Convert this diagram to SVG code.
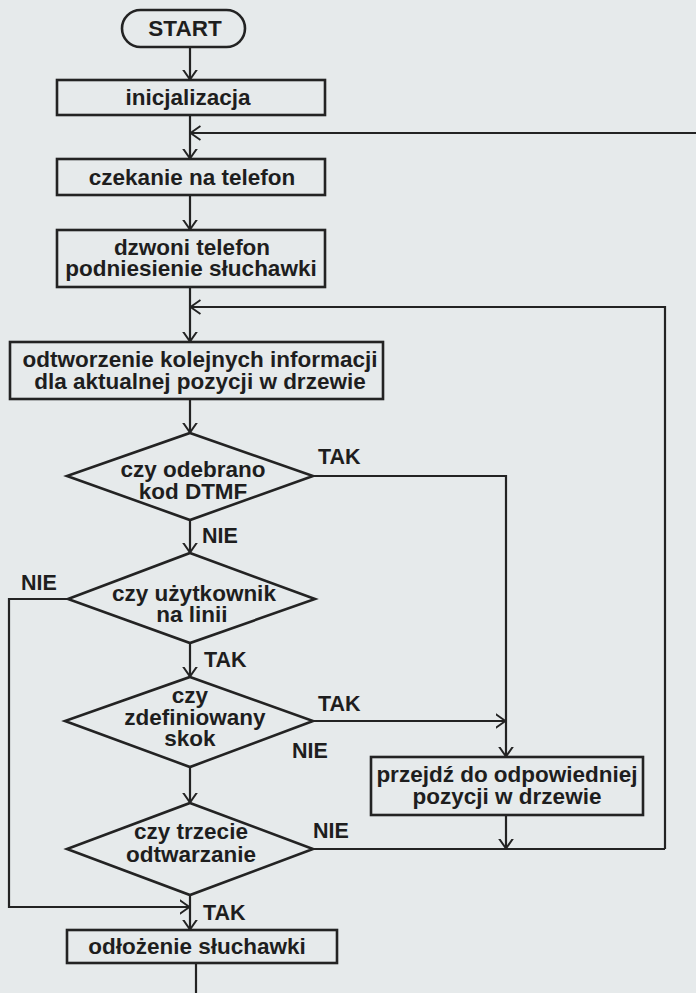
<svg xmlns="http://www.w3.org/2000/svg" width="696" height="993" viewBox="0 0 696 993">
<style>
.shape{fill:none;stroke:#232323;stroke-width:2.6}
.conn{fill:none;stroke:#232323;stroke-width:2.2}
text{font-family:"Liberation Sans",Arial,sans-serif;font-weight:bold;font-size:22.5px;fill:#1e1e1e;text-anchor:middle}
.lbl{text-anchor:start;font-size:21.5px}
</style>
<defs>
<marker id="ah" viewBox="0 0 10 16" markerWidth="10" markerHeight="16" refX="9.5" refY="8" orient="auto" markerUnits="userSpaceOnUse">
<path d="M0,1 L10,8 L0,15" fill="none" stroke="#232323" stroke-width="2"/>
</marker>
</defs>
<rect x="0" y="0" width="696" height="993" fill="#e6eaeb"/>
<g id="connectors">
<path class="conn" d="M190,47 V79" marker-end="url(#ah)"/>
<path class="conn" d="M190,115 V158" marker-end="url(#ah)"/>
<path class="conn" d="M696,133 H191" marker-end="url(#ah)"/>
<path class="conn" d="M190,195 V229" marker-end="url(#ah)"/>
<path class="conn" d="M190,287 V341" marker-end="url(#ah)"/>
<path class="conn" d="M665,849 V307 H191" marker-end="url(#ah)"/>
<path class="conn" d="M190,399 V432" marker-end="url(#ah)"/>
<path class="conn" d="M313,476 H506 V756" marker-end="url(#ah)"/>
<path class="conn" d="M190,520 V552" marker-end="url(#ah)"/>
<path class="conn" d="M190,643 V676" marker-end="url(#ah)"/>
<path class="conn" d="M313,721 H505" marker-end="url(#ah)"/>
<path class="conn" d="M190,767 V802" marker-end="url(#ah)"/>
<path class="conn" d="M313,849 H665"/>
<path class="conn" d="M506,815 V848" marker-end="url(#ah)"/>
<path class="conn" d="M68,599 H9 V907 H189" marker-end="url(#ah)"/>
<path class="conn" d="M190,895 V929" marker-end="url(#ah)"/>
<path class="conn" d="M196,963 V993"/>
<text class="lbl" x="318" y="464">TAK</text>
<text class="lbl" x="202" y="543">NIE</text>
<text class="lbl" x="21" y="590">NIE</text>
<text class="lbl" x="204" y="667">TAK</text>
<text class="lbl" x="318" y="711">TAK</text>
<text class="lbl" x="292" y="758">NIE</text>
<text class="lbl" x="313" y="838">NIE</text>
<text class="lbl" x="203" y="920">TAK</text>
</g>
<g id="start">
<rect class="shape" x="122" y="10" width="123" height="37" rx="18.5"/>
<text x="185" y="36">START</text>
</g>
<g id="inicjalizacja">
<rect class="shape" x="57" y="80" width="268" height="35"/>
<text x="188" y="105">inicjalizacja</text>
</g>
<g id="czekanie">
<rect class="shape" x="57" y="159" width="268" height="36"/>
<text x="192" y="185">czekanie na telefon</text>
</g>
<g id="dzwoni">
<rect class="shape" x="57" y="230" width="268" height="57"/>
<text x="192" y="255">dzwoni telefon</text>
<text x="191" y="276">podniesienie słuchawki</text>
</g>
<g id="odtworzenie">
<rect class="shape" x="10" y="342" width="373" height="57"/>
<text x="200" y="367">odtworzenie kolejnych informacji</text>
<text x="200" y="389">dla aktualnej pozycji w drzewie</text>
</g>
<g id="dtmf">
<polygon class="shape" points="190,433 313,476 190,520 67,476"/>
<text x="193" y="477">czy odebrano</text>
<text x="193" y="499">kod DTMF</text>
</g>
<g id="uzytkownik">
<polygon class="shape" points="190,553 315,599 190,643 68,599"/>
<text x="194" y="601">czy użytkownik</text>
<text x="192" y="622">na linii</text>
</g>
<g id="zdefiniowany">
<polygon class="shape" points="190,677 313,721 190,767 65,721"/>
<text x="190" y="703">czy</text>
<text x="195" y="725">zdefiniowany</text>
<text x="190" y="746">skok</text>
</g>
<g id="trzecie">
<polygon class="shape" points="190,803 313,849 190,895 67,849"/>
<text x="191" y="839">czy trzecie</text>
<text x="191" y="862">odtwarzanie</text>
</g>
<g id="przejdz">
<rect class="shape" x="371" y="757" width="272" height="58"/>
<text x="507" y="782">przejdź do odpowiedniej</text>
<text x="507" y="804">pozycji w drzewie</text>
</g>
<g id="odlozenie">
<rect class="shape" x="67" y="930" width="270" height="33"/>
<text x="197" y="954">odłożenie słuchawki</text>
</g>
</svg>
